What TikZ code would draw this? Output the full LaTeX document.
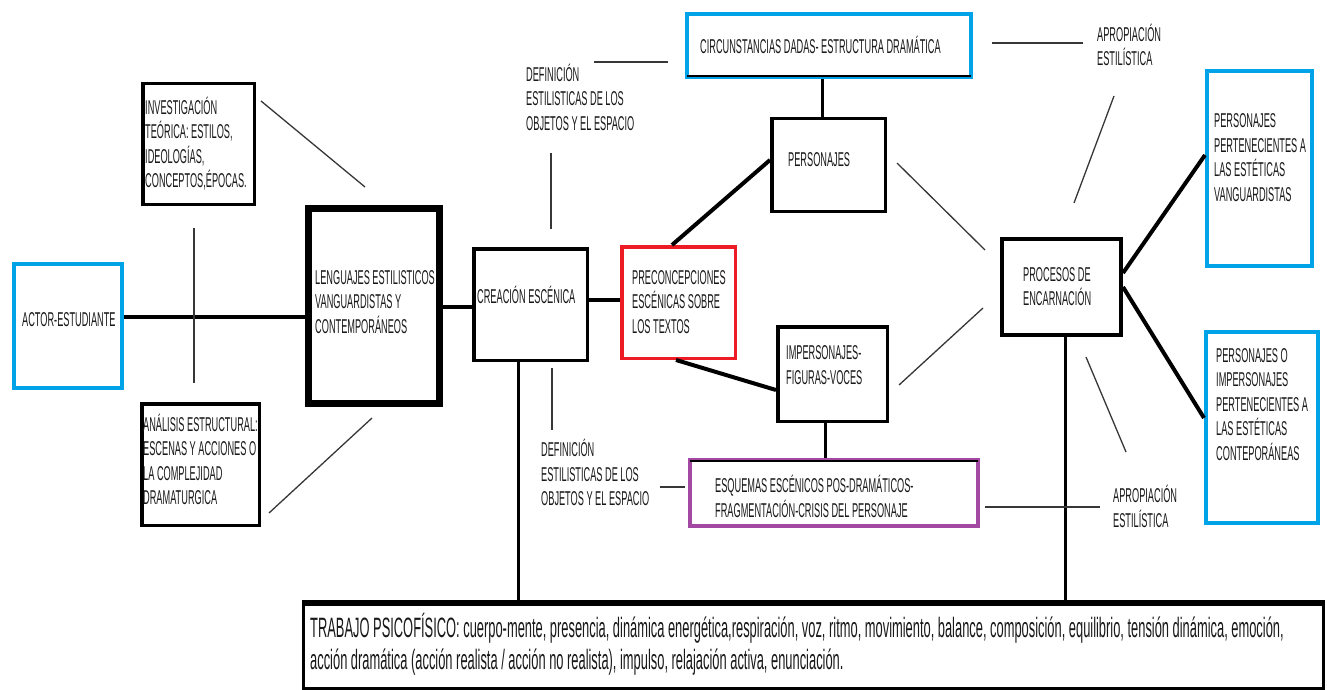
\documentclass[tikz,border=0pt]{standalone}
\usepackage{fontspec}
\setmainfont{Liberation Sans}[FakeStretch=0.46]
\definecolor{pblue}{RGB}{0,162,232}
\definecolor{pred}{RGB}{237,28,36}
\definecolor{ppurple}{RGB}{163,73,164}
\definecolor{thinc}{RGB}{55,55,55}
\begin{document}
\begin{tikzpicture}[x=1pt,y=-1pt,
  box/.style={draw=black,line width=3.5pt,inner sep=0pt,rectangle},
  bluebox/.style={draw=pblue,line width=4pt,inner sep=0pt,rectangle},
  lbl/.style={inner sep=0pt,anchor=west,align=left,text=black!90,font=\fontsize{20}{24.5}\selectfont},
  conn/.style={line width=4pt},
  leader/.style={draw=thinc,line width=1.3pt}]
\fill[white] (0,0) rectangle (1327,690);
\useasboundingbox (0,0) rectangle (1327,690);

% boxes
\node[bluebox,minimum width=108,minimum height=124] (actor) at (68,326) {};
\node[box,minimum width=111.5,minimum height=120.5] (inv) at (198.5,144) {};
\node[box,line width=7pt,minimum width=131,minimum height=195] (leng) at (374,306) {};
\node[box,minimum width=117.5,minimum height=121.5] (ana) at (200.5,464.5) {};
\node[box,minimum width=113.5,minimum height=111.5] (cre) at (530.5,304.5) {};
\node[box,draw=pred,minimum width=113.5,minimum height=111.5] (pre) at (678.5,302.5) {};
\node[box,minimum width=113.5,minimum height=92.5] (pers) at (828.5,165) {};
\node[box,minimum width=109.5,minimum height=94.5] (imp) at (832.5,374) {};
\node[bluebox,minimum width=284,minimum height=63] (cir) at (829,45.5) {};
\draw[line width=2pt] ([xshift=2pt,yshift=3pt]cir.south west) -- ([xshift=-2pt,yshift=3pt]cir.south east);
\node[box,draw=ppurple,line width=4pt,minimum width=288,minimum height=66] (esq) at (834,493) {};
\draw[line width=2.5pt] ([xshift=2pt,yshift=-3pt]esq.north west) -- ([xshift=-2pt,yshift=-3pt]esq.north east);
\node[box,line width=4pt,minimum width=119,minimum height=96] (proc) at (1061.5,287) {};
\node[bluebox,minimum width=105,minimum height=195] (bone) at (1259.5,168.5) {};
\node[bluebox,minimum width=112,minimum height=191] (btwo) at (1262,427.5) {};
\node[box,line width=3pt,minimum width=1020,minimum height=84] (trab) at (813.5,646.5) {};
\draw[line width=6pt] (trab.north west) -- (trab.north east);

% texts
\node[lbl] (tactor) at (22,320) {ACTOR-ESTUDIANTE};
\node[lbl] (tinv) at (145,143.5) {INVESTIGACIÓN\\TEÓRICA: ESTILOS,\\IDEOLOGÍAS,\\CONCEPTOS,ÉPOCAS.};
\node[lbl] (tleng) at (315,302) {LENGUAJES ESTILISTICOS\\VANGUARDISTAS Y\\CONTEMPORÁNEOS};
\node[lbl] (tana) at (143,459.5) {ANÁLISIS ESTRUCTURAL:\\ESCENAS Y ACCIONES O\\LA COMPLEJIDAD\\DRAMATURGICA};
\node[lbl] (tcre) at (477,295) {CREACIÓN ESCÉNICA};
\node[lbl] (tpre) at (632,302) {PRECONCEPCIONES\\ESCÉNICAS SOBRE\\LOS TEXTOS};
\node[lbl] (tpers) at (788,160) {PERSONAJES};
\node[lbl] (timp) at (786,365) {IMPERSONAJES-\\FIGURAS-VOCES};
\node[lbl] (tcir) at (700,45) {CIRCUNSTANCIAS DADAS- ESTRUCTURA DRAMÁTICA};
\node[lbl] (tesq) at (715,496.5) {ESQUEMAS ESCÉNICOS POS-DRAMÁTICOS-\\FRAGMENTACIÓN-CRISIS DEL PERSONAJE};
\node[lbl] (tproc) at (1023,286.5) {PROCESOS DE\\ENCARNACIÓN};
\node[lbl] (tbone) at (1214,157.5) {PERSONAJES\\PERTENECIENTES A\\LAS ESTÉTICAS\\VANGUARDISTAS};
\node[lbl] (tbtwo) at (1216,404.5) {PERSONAJES O\\IMPERSONAJES\\PERTENECIENTES A\\LAS ESTÉTICAS\\CONTEPORÁNEAS};
\node[lbl] (defa) at (526,97) {DEFINICIÓN\\ESTILISTICAS DE LOS\\OBJETOS Y EL ESPACIO};
\node[lbl] (defb) at (541,472.5) {DEFINICIÓN\\ESTILISTICAS DE LOS\\OBJETOS Y EL ESPACIO};
\node[lbl] (apra) at (1097,45) {APROPIACIÓN\\ESTILÍSTICA};
\node[lbl] (aprb) at (1113,506.5) {APROPIACIÓN\\ESTILÍSTICA};
\node[lbl,font=\fontsize{28}{32}\selectfont] (ttrab) at (310,644) {TRABAJO PSICOFÍSICO: cuerpo-mente, presencia, dinámica energética,respiración, voz, ritmo, movimiento, balance, composición, equilibrio, tensión dinámica, emoción,\\acción dramática (acción realista / acción no realista), impulso, relajación activa, enunciación.};

% thick connectors
\draw[conn] (actor.east |- 0,317) -- (leng.west |- 0,317);
\draw[conn] (leng.east |- 0,307) -- (cre.west |- 0,307);
\draw[conn] (cre.east |- 0,300) -- (pre.west |- 0,300);
\draw[conn] (pre.north -| 672,0) -- (pers.west |- 0,160);
\draw[conn] (pre.south -| 676,0) -- (imp.west |- 0,390);
\draw[line width=3pt] (cir.south -| 822,0) -- (pers.north -| 822,0);
\draw[line width=3pt] (imp.south -| 825,0) -- (esq.north -| 825,0);
\draw[conn] (proc.east |- 0,273) -- (bone.west |- 0,155);
\draw[conn] (proc.east |- 0,287) -- (btwo.west |- 0,418);
\draw[line width=3pt] (cre.south -| 518,0) -- (trab.north -| 518,0);
\draw[line width=3pt] (proc.south -| 1065,0) -- (trab.north -| 1065,0);

% leader lines
\coordinate (la1) at (261,101); \coordinate (la2) at (365,187);
\coordinate (lb1) at (194,228); \coordinate (lb2) at (194,383);
\coordinate (lc1) at (269,513); \coordinate (lc2) at (372,418);
\coordinate (ld1) at (594,62);  \coordinate (ld2) at (668,62);
\coordinate (le1) at (551,153); \coordinate (le2) at (551,229);
\coordinate (lf1) at (552,368); \coordinate (lf2) at (552,430);
\coordinate (lg1) at (660,487); \coordinate (lg2) at (685,487);
\coordinate (lh1) at (897,163); \coordinate (lh2) at (985,250);
\coordinate (li1) at (899,385); \coordinate (li2) at (983,308);
\coordinate (lj1) at (992,43);  \coordinate (lj2) at (1083,43);
\coordinate (lk1) at (1114,96); \coordinate (lk2) at (1074,203);
\coordinate (ll1) at (1086,357);\coordinate (ll2) at (1126,452);
\coordinate (lm1) at (985,507); \coordinate (lm2) at (1100,507);
\draw[leader] (la1) -- (la2);
\draw[leader] (lb1) -- (lb2);
\draw[leader] (lc1) -- (lc2);
\draw[leader,line width=1.8pt] (ld1) -- (ld2);
\draw[leader] (le1) -- (le2);
\draw[leader] (lf1) -- (lf2);
\draw[leader,line width=1.8pt] (lg1) -- (lg2);
\draw[leader] (lh1) -- (lh2);
\draw[leader] (li1) -- (li2);
\draw[leader,line width=1.8pt] (lj1) -- (lj2);
\draw[leader] (lk1) -- (lk2);
\draw[leader] (ll1) -- (ll2);
\draw[leader,line width=1.8pt] (lm1) -- (lm2);
\end{tikzpicture}
\end{document}
